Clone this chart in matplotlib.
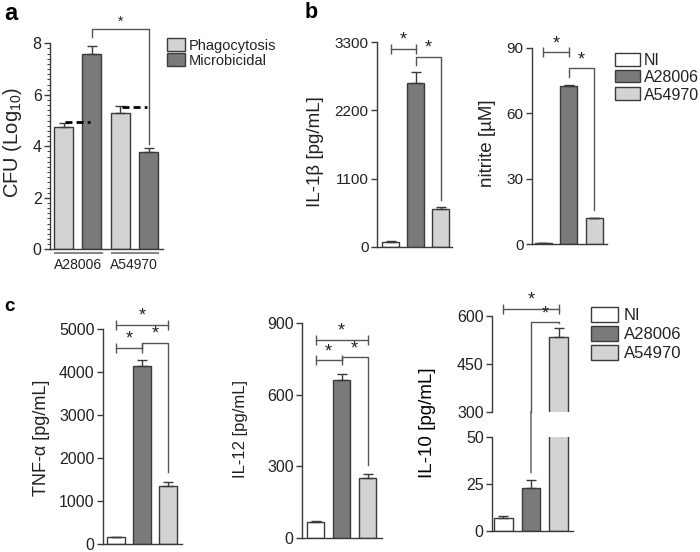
import numpy as np
import matplotlib
matplotlib.use('Agg')
import matplotlib.pyplot as plt
from matplotlib.patches import Rectangle, ConnectionPatch
from matplotlib.transforms import blended_transform_factory

plt.rcParams['font.family'] = ['Liberation Sans', 'DejaVu Sans']
plt.rcParams['mathtext.fontset'] = 'custom'
plt.rcParams['mathtext.rm'] = 'Liberation Sans'

W, H = 700, 552
LIGHT = '#d3d3d3'
DARK = '#7a7a7a'
EDGE = '#3a3a3a'
LINE = '#555555'
TXT = '#222222'

groups = ['NI', 'A28006', 'A54970']
colors = ['white', DARK, LIGHT]

# panel a
a_strains = ['A28006', 'A54970']
a_phago = [4.75, 5.30]
a_phago_err = [0.17, 0.26]
a_micro = [7.58, 3.79]
a_micro_err = [0.32, 0.16]
a_dash = [4.94, 5.54]

# panel b
il1b = [85, 2640, 612]
il1b_err = [10, 180, 38]
nitrite = [0.3, 72.5, 11.8]
nitrite_err = [0.2, 0.4, 0.3]

# panel c
tnf = [160, 4150, 1340]
tnf_err = [10, 130, 95]
il12 = [68, 661, 253]
il12_err = [4, 25, 14]
il10 = [7, 23, 535]
il10_err = [1, 4.2, 28]


def add_ax(left, right, y0, ytop, ymin, ymax, xmin, xmax, fs):
    ax = fig.add_axes([left / W, 1 - y0 / H, (right - left) / W, (y0 - ytop) / H])
    ax.set_ylim(ymin, ymax)
    ax.set_xlim(xmin, xmax)
    for s in ['top', 'right']:
        ax.spines[s].set_visible(False)
    for s in ['left', 'bottom']:
        ax.spines[s].set_color(EDGE)
        ax.spines[s].set_linewidth(1.0)
    ax.tick_params(axis='y', length=4.5, width=1.0, color=EDGE, colors=TXT, pad=1.5,
                   labelsize=fs)
    ax.tick_params(axis='x', length=0)
    ax.set_xticks([])
    return ax


def bars3(ax, vals, errs, width=0.68):
    x = np.arange(3)
    ax.bar(x, vals, width=width, color=colors, edgecolor=EDGE, linewidth=1.0, zorder=2)
    ax.errorbar(x, vals, yerr=[np.zeros(3), errs], fmt='none', ecolor=EDGE,
                elinewidth=1.0, capsize=3.5, capthick=1.0, zorder=3)


def star(ax, x, y, fs=13):
    ax.annotate('*', (x, y), xytext=(0, 0), textcoords='offset points',
                ha='center', va='bottom', fontsize=fs, color=TXT, annotation_clip=False)


def hbar(ax, x1, x2, y):
    ax.plot([x1, x2], [y, y], color=LINE, lw=1.0, marker='|', ms=7, mew=1.0, clip_on=False)
    star(ax, (x1 + x2) / 2, y)


def bracket(ax, x1, x2, y, yl, yr):
    ax.plot([x1, x1, x2, x2], [yl, y, y, yr], color=LINE, lw=1.0, clip_on=False)
    star(ax, (x1 + x2) / 2, y)


def legend(items, x, ys, w, h, xt, fs):
    for (c, lab), y in zip(items, ys):
        fig.add_artist(Rectangle((x / W, 1 - (y + h) / H), w / W, h / H, transform=fig.transFigure,
                                 facecolor=c, edgecolor=EDGE, linewidth=1.0))
        fig.text(xt / W, 1 - (y + h / 2) / H, lab, ha='left', va='center_baseline',
                 fontsize=fs, color=TXT)


def ylab(x, y, s, fs, **kw):
    kw.setdefault('color', TXT)
    fig.text(x / W, 1 - y / H, s, rotation=90, ha='center', va='center', fontsize=fs, **kw)


fig = plt.figure(figsize=(7, 5.52), dpi=100)

# ---------- a ----------
ax = add_ax(50, 163, 249.3, 43.3, 0, 8, -0.48, 3.51, 11.5)
xp = np.array([0, 2])
xm = np.array([1, 3])
ax.bar(xp, a_phago, width=0.67, color=LIGHT, edgecolor=EDGE, linewidth=1.0, zorder=2)
ax.bar(xm, a_micro, width=0.67, color=DARK, edgecolor=EDGE, linewidth=1.0, zorder=2)
ax.errorbar(xp, a_phago, yerr=[np.zeros(2), a_phago_err], fmt='none', ecolor=EDGE,
            elinewidth=1.0, capsize=3.5, capthick=1.0, zorder=3)
ax.errorbar(xm, a_micro, yerr=[np.zeros(2), a_micro_err], fmt='none', ecolor=EDGE,
            elinewidth=1.0, capsize=3.5, capthick=1.0, zorder=3)
for i, d in enumerate(a_dash):
    ax.plot([2 * i + 0.05, 2 * i + 0.94], [d, d], color='black', lw=2, ls=(0, (2.5, 1.5)), zorder=4)
ax.set_yticks([0, 2, 4, 6, 8])
ax.set_yticks(np.arange(0, 8.01, 0.2), minor=True)
ax.tick_params(axis='y', which='minor', length=2.2, width=0.7, color=EDGE)
bt = blended_transform_factory(ax.transData, ax.transAxes)
for i, s in enumerate(a_strains):
    ax.plot([2 * i - 0.3, 2 * i + 1.35], [-0.018, -0.018], color='#888888', lw=1.5,
            transform=bt, clip_on=False)
    ax.text(2 * i + 0.5, -0.04, s, transform=bt, ha='center', va='top', fontsize=10, color=TXT)
ax.plot([1, 1, 3, 3], [8.23, 8.54, 8.54, 4.1], color=LINE, lw=1.0, clip_on=False)
ax.text(2, 8.58, '*', ha='center', va='bottom', fontsize=10, color=TXT)
ylab(13, 142, 'CFU (Log$_{10}$)', 14.5)
legend([(LIGHT, 'Phagocytosis'), (DARK, 'Microbicidal')], 167, [38, 53.5], 18, 12.5, 189, 10.5)
fig.text(4 / W, 1 - 2 / H, 'a', fontsize=17, fontweight='bold', va='top', color='black')

# ---------- b ----------
ax = add_ax(377, 452, 247, 42, 0, 3300, -0.54, 2.46, 11)
bars3(ax, il1b, il1b_err)
ax.set_yticks([0, 1100, 2200, 3300])
hbar(ax, 0, 1, 3190)
bracket(ax, 1, 2, 3060, 2930, 757)
ylab(315, 152, 'IL-1β [pg/mL]', 13.5)

ax = add_ax(532, 607, 244, 48, 0, 90, -0.45, 2.51, 11)
bars3(ax, nitrite, nitrite_err, width=0.67)
ax.set_yticks([0, 30, 60, 90])
hbar(ax, 0, 1, 88)
bracket(ax, 1, 2, 80.6, 76.7, 15.6)
ylab(487, 143, 'nitrite [µM]', 13.5)
legend(list(zip(colors, groups)), 615, [53, 70, 87.5], 25, 12.5, 644, 11.5)
fig.text(305 / W, 1 - 2 / H, 'b', fontsize=15.5, fontweight='bold', va='top', color='black')

# ---------- c ----------
ax = add_ax(103, 182, 544, 329, 0, 5000, -0.5, 2.54, 11.5)
bars3(ax, tnf, tnf_err, width=0.69)
ax.set_yticks([0, 1000, 2000, 3000, 4000, 5000])
hbar(ax, 0, 2, 5100)
hbar(ax, 0, 1, 4560)
bracket(ax, 1, 2, 4680, 4560, 1670)
ylab(42, 438, 'TNF-α [pg/mL]', 13)
fig.text(4 / W, 1 - 298 / H, 'c', fontsize=13.5, fontweight='bold', va='top', color='black')

ax = add_ax(302, 382, 538, 323, 0, 900, -0.52, 2.55, 11.5)
bars3(ax, il12, il12_err, width=0.67)
ax.set_yticks([0, 300, 600, 900])
hbar(ax, 0, 2, 829)
hbar(ax, 0, 1, 745)
bracket(ax, 1, 2, 757, 745, 306)
ylab(240, 429, 'IL-12 [pg/mL]', 12)

# IL-10 with broken axis
axl = add_ax(492, 573, 531, 437, 0, 50, -0.41, 2.52, 11.5)
bars3(axl, il10, il10_err, width=0.68)
axl.set_yticks([0, 25, 50])
axu = add_ax(492, 573, 412, 316, 300, 600, -0.41, 2.52, 11.5)
axu.spines['bottom'].set_visible(False)
bars3(axu, il10, il10_err, width=0.68)
axu.set_yticks([300, 450, 600])
hbar(axu, 0, 2, 622)
axu.plot([1, 1, 2, 2], [300, 581, 581, 578], color=LINE, lw=1.0, clip_on=False)
star(axu, 1.5, 581)
cp = ConnectionPatch((1, 300), (1, 31), coordsA=axu.transData, coordsB=axl.transData,
                     color=LINE, lw=1.0)
fig.add_artist(cp)
ylab(428, 423, 'IL-10 [pg/mL]', 13.5, color='black')
legend(list(zip(colors, groups)), 591, [307, 326, 345], 27, 14.5, 624, 12)

fig.savefig('out.png', dpi=100)
